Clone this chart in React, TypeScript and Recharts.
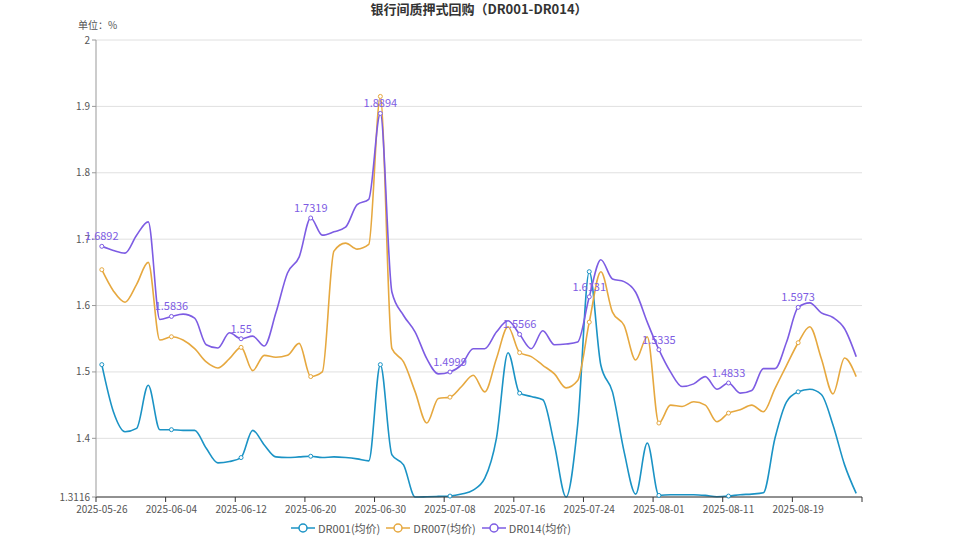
import { ComposedChart, Line, XAxis, YAxis, CartesianGrid, Legend, LabelList } from 'recharts'

const dates = [
    '2025-05-26', '2025-05-27', '2025-05-28', '2025-05-29', '2025-05-30', '2025-06-03',
    '2025-06-04', '2025-06-05', '2025-06-06', '2025-06-09', '2025-06-10', '2025-06-11',
    '2025-06-12', '2025-06-13', '2025-06-16', '2025-06-17', '2025-06-18', '2025-06-19',
    '2025-06-20', '2025-06-23', '2025-06-24', '2025-06-25', '2025-06-26', '2025-06-27',
    '2025-06-30', '2025-07-01', '2025-07-02', '2025-07-03', '2025-07-04', '2025-07-07',
    '2025-07-08', '2025-07-09', '2025-07-10', '2025-07-11', '2025-07-14', '2025-07-15',
    '2025-07-16', '2025-07-17', '2025-07-18', '2025-07-21', '2025-07-22', '2025-07-23',
    '2025-07-24', '2025-07-25', '2025-07-28', '2025-07-29', '2025-07-30', '2025-07-31',
    '2025-08-01', '2025-08-04', '2025-08-05', '2025-08-06', '2025-08-07', '2025-08-08',
    '2025-08-11', '2025-08-12', '2025-08-13', '2025-08-14', '2025-08-15', '2025-08-18',
    '2025-08-19', '2025-08-20', '2025-08-21', '2025-08-22', '2025-08-25', '2025-08-26',
]

// DR001 均价
const dr001 = [
    1.511, 1.44, 1.41, 1.415, 1.48, 1.413, 1.413, 1.412, 1.412, 1.385, 1.363, 1.365,
    1.371, 1.412, 1.39, 1.372, 1.371, 1.372, 1.373, 1.371, 1.372, 1.371, 1.369, 1.366,
    1.511, 1.375, 1.36, 1.3116, 1.312, 1.3125, 1.313, 1.316, 1.322, 1.34, 1.4, 1.529,
    1.468, 1.463, 1.458, 1.39, 1.3116, 1.42, 1.651, 1.51, 1.47, 1.38, 1.316, 1.393,
    1.314, 1.315, 1.315, 1.315, 1.314, 1.312, 1.313, 1.315, 1.316, 1.318, 1.4, 1.455,
    1.47, 1.474, 1.466, 1.42, 1.36, 1.317,
]

// DR007 均价
const dr007 = [
    1.654, 1.622, 1.605, 1.632, 1.665, 1.548, 1.553, 1.548, 1.535, 1.515, 1.506, 1.52,
    1.537, 1.502, 1.525, 1.522, 1.525, 1.543, 1.493, 1.5, 1.682, 1.694, 1.685, 1.692,
    1.915, 1.535, 1.515, 1.47, 1.423, 1.46, 1.462, 1.478, 1.495, 1.47, 1.52, 1.568,
    1.529, 1.523, 1.51, 1.497, 1.476, 1.487, 1.575, 1.651, 1.59, 1.57, 1.518, 1.553,
    1.423, 1.45, 1.448, 1.455, 1.45, 1.425, 1.438, 1.443, 1.45, 1.44, 1.475, 1.51,
    1.544, 1.568, 1.52, 1.467, 1.521, 1.493,
]

// DR014 均价
const dr014 = [
    1.6892, 1.683, 1.679, 1.706, 1.726, 1.579, 1.5836, 1.587, 1.581, 1.541, 1.536, 1.559,
    1.55, 1.554, 1.539, 1.589, 1.649, 1.673, 1.7319, 1.706, 1.711, 1.718, 1.752, 1.76,
    1.8894, 1.62, 1.585, 1.56, 1.52, 1.497, 1.4999, 1.511, 1.535, 1.535, 1.56, 1.577,
    1.5566, 1.535, 1.562, 1.541, 1.542, 1.545, 1.6131, 1.669, 1.64, 1.636, 1.62, 1.575,
    1.5335, 1.5, 1.478, 1.482, 1.493, 1.474, 1.4833, 1.468, 1.472, 1.505, 1.505, 1.545,
    1.5973, 1.604, 1.589, 1.582, 1.565, 1.523,
]

const yTicks = [1.3116, 1.4, 1.5, 1.6, 1.7, 1.8, 1.9, 2]

const series = [
    { key: 'dr001', name: 'DR001(均价)', color: '#1b93c5' },
    { key: 'dr007', name: 'DR007(均价)', color: '#e6a83f' },
    { key: 'dr014', name: 'DR014(均价)', color: '#7d5ce3' },
]

const data = dates.map((date, i) => ({
    date,
    dr001: dr001[i],
    dr007: dr007[i],
    dr014: dr014[i],
}))

const W = 958
const H = 539
const MARGIN = { top: 40, right: 96, bottom: 0, left: 0 }
const Y_AXIS_W = 96
const BAND = (W - MARGIN.left - MARGIN.right - Y_AXIS_W) / dates.length
const STEP = 6
const FONT = '"Microsoft YaHei", "Noto Sans CJK SC", sans-serif'

function XTick(props: any) {
    const { x, y, payload } = props
    const left = x - BAND / 2
    const isLast = payload.index + STEP >= dates.length
    return (
        <g>
            <line x1={left} x2={left} y1={y} y2={y + 5} stroke="#333" />
            {isLast && (
                <line x1={left + STEP * BAND} x2={left + STEP * BAND} y1={y} y2={y + 5} stroke="#333" />
            )}
            <text x={x} y={y + 16} textAnchor="middle" fontSize={10} fill="#555" fontFamily={FONT}>
                {payload.value}
            </text>
        </g>
    )
}

function makeDot(color: string) {
    return (props: any) => {
        const { cx, cy, index } = props
        if (index % STEP !== 0) return <g key={`d${index}`} />
        return (
            <circle key={`d${index}`} cx={cx} cy={cy} r={2} fill="#fff" stroke={color} strokeWidth={1} />
        )
    }
}

function PointLabel(props: any) {
    const { x, y, value, index } = props
    if (index % STEP !== 0) return null
    return (
        <text x={x} y={y - 6} textAnchor="middle" fontSize={11} fill="#7d5ce3" fontFamily={FONT}>
            {value}
        </text>
    )
}

function LegendContent() {
    return (
        <div
            style={{
                display: 'flex',
                justifyContent: 'center',
                alignItems: 'center',
                gap: 6,
                height: 22,
                fontSize: 11,
                color: '#555',
                fontFamily: FONT,
            }}
        >
            {series.map((s) => (
                <div key={s.key} style={{ display: 'flex', alignItems: 'center', gap: 3 }}>
                    <svg width={24} height={12}>
                        <line x1={0} x2={24} y1={6} y2={6} stroke={s.color} strokeWidth={1.5} />
                        <circle cx={12} cy={6} r={4} fill="#fff" stroke={s.color} strokeWidth={1.5} />
                    </svg>
                    <span>{s.name}</span>
                </div>
            ))}
        </div>
    )
}

export default function App() {
    return (
        <div style={{ position: 'absolute', left: 0, top: 0, width: W, height: H, background: '#fff' }}>
            <div
                style={{
                    position: 'absolute',
                    left: 0,
                    width: W,
                    top: 0,
                    textAlign: 'center',
                    fontFamily: FONT,
                    fontWeight: 'bold',
                    fontSize: 13,
                    color: '#333',
                    lineHeight: '18px',
                }}
            >
                银行间质押式回购（DR001-DR014）
            </div>
            <div
                style={{
                    position: 'absolute',
                    left: 78,
                    top: 17,
                    fontFamily: FONT,
                    fontSize: 10,
                    color: '#555',
                    lineHeight: '16px',
                }}
            >
                单位：%
            </div>
            <ComposedChart width={W} height={H} data={data} margin={MARGIN}>
                <CartesianGrid vertical={false} stroke="#e0e0e0" />
                <XAxis
                    dataKey="date"
                    scale="band"
                    interval={STEP - 1}
                    height={20}
                    stroke="#333"
                    tickLine={false}
                    tickSize={0}
                    tickMargin={0}
                    tick={<XTick />}
                />
                <YAxis
                    width={Y_AXIS_W}
                    domain={[yTicks[0], yTicks[yTicks.length - 1]]}
                    ticks={yTicks}
                    stroke="#999"
                    tickSize={4}
                    tick={{ fontSize: 10, fill: '#555', fontFamily: FONT }}
                />
                <Legend verticalAlign="bottom" height={22} content={<LegendContent />} />
                {series.map((s) => (
                    <Line
                        key={s.key}
                        type="monotone"
                        dataKey={s.key}
                        name={s.name}
                        stroke={s.color}
                        strokeWidth={1.6}
                        dot={makeDot(s.color)}
                        activeDot={false}
                        isAnimationActive={false}
                    >
                        {s.key === 'dr014' && <LabelList dataKey="dr014" content={<PointLabel />} />}
                    </Line>
                ))}
            </ComposedChart>
        </div>
    )
}
